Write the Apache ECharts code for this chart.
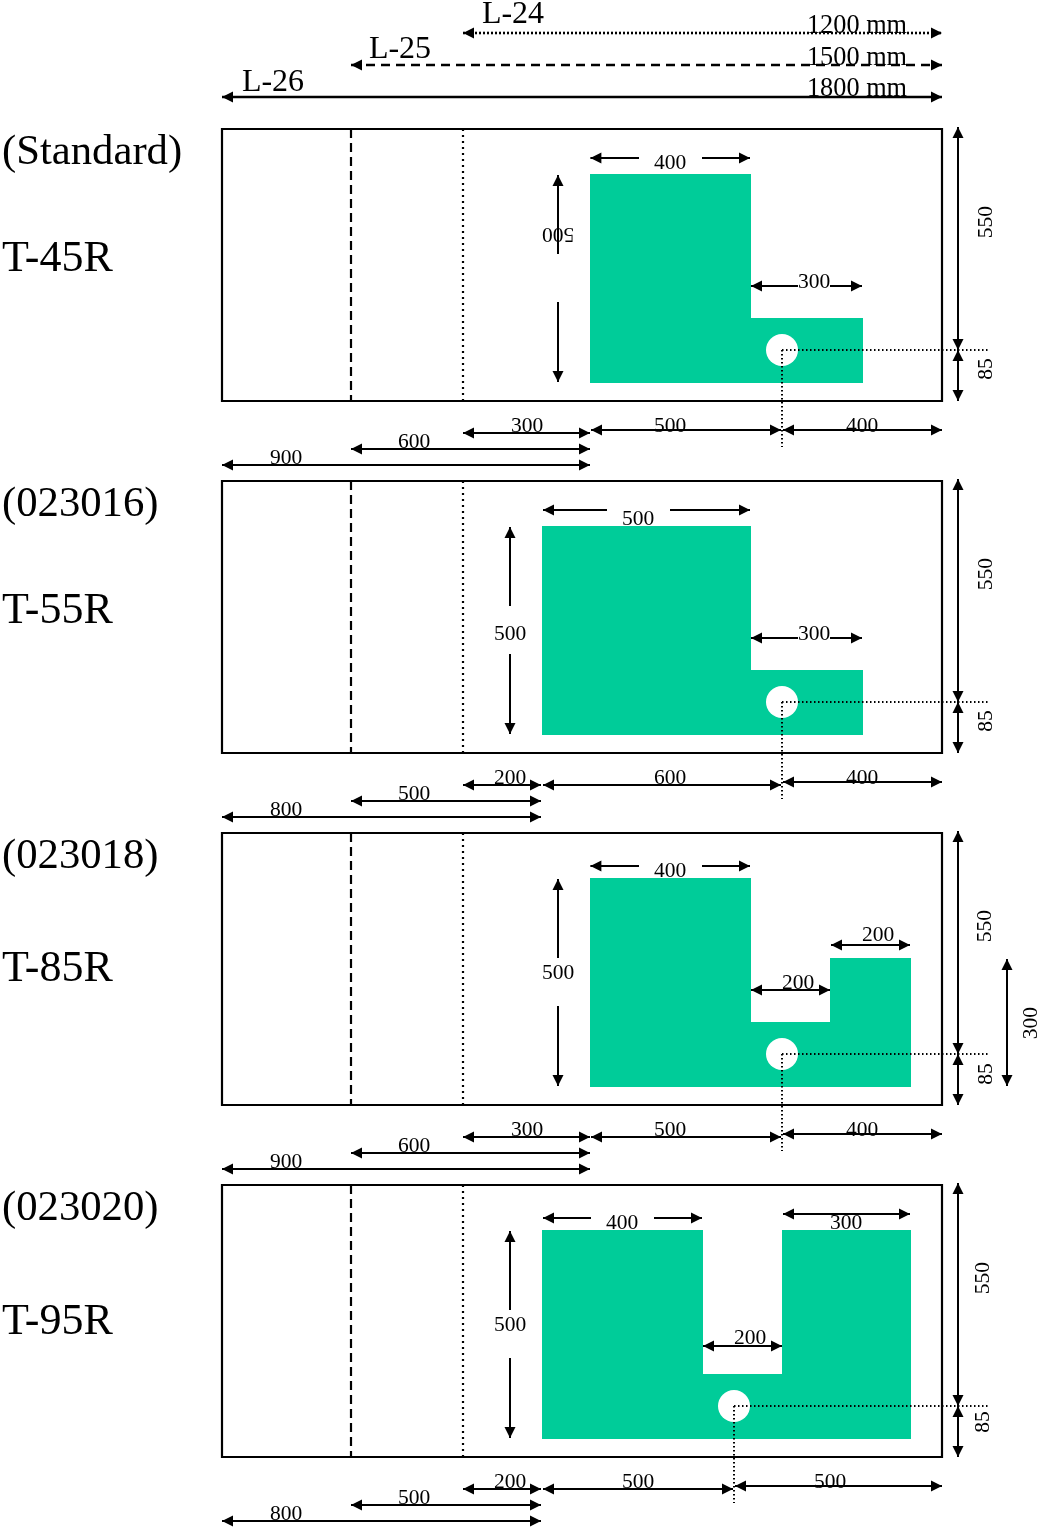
<!DOCTYPE html>
<html><head><meta charset="utf-8">
<style>html,body{margin:0;padding:0;background:#fff}#c{width:1037px;height:1530px}</style>
<script src="https://cdn.jsdelivr.net/npm/echarts@6/dist/echarts.min.js"></script>
</head><body><div id="c"></div>
<script>
// units: nominal drawing units; x from plate left edge, y from each plate's top edge
const plateWidth = 1800, plateHeight = 680;
const panelOffsets = [0, 880, 1760, 2640];
const lengthLimits = [322.5, 602.5];

const panelTitles = [
  ['(Standard)', 'T-45R', 60, 325],
  ['(023016)', 'T-55R', 60, 325],
  ['(023018)', 'T-85R', 60, 340],
  ['(023020)', 'T-95R', 60, 342.5]
];
const topLengths = [
  ['L-24', '1200 mm', 602.5, -240, 'dotted', 727.5, -285, -257.5],
  ['L-25', '1500 mm', 322.5, -160, 'dashed', 445, -199.5, -177.5],
  ['L-26', '1800 mm', 0, -80, 'solid', 127.5, -117, -100]
];
const shapes = [
  [[920,112.5],[1322.5,112.5],[1322.5,472.5],[1602.5,472.5],[1602.5,635],[920,635]],
  [[800,112.5],[1322.5,112.5],[1322.5,472.5],[1602.5,472.5],[1602.5,635],[800,635]],
  [[920,112.5],[1322.5,112.5],[1322.5,472.5],[1520,472.5],[1520,312.5],[1722.5,312.5],[1722.5,635],[920,635]],
  [[800,112.5],[1202.5,112.5],[1202.5,472.5],[1400,472.5],[1400,112.5],[1722.5,112.5],[1722.5,635],[800,635]]
];
const holes = [[1400,552.5],[1400,552.5],[1400,552.5],[1280,552.5]];
// [x1,y1,x2,y2,heads] heads: s=start, e=end, b=both
const arrows1 = [
  [921,72.5,1042.5,72.5,'s'],[1200,72.5,1320,72.5,'e'],
  [840,115,840,312.5,'s'],[840,432.5,840,632.5,'e'],
  [1322.5,392.5,1440,392.5,'s'],[1520,392.5,1600,392.5,'e'],
  [1840,-5,1840,552.5,'b'],[1840,552.5,1840,680,'b'],
  [602.5,760,920,760,'b'],[922.5,752.5,1397.5,752.5,'b'],[1402.5,752.5,1800,752.5,'b'],
  [322.5,800,920,800,'b'],[0,840,920,840,'b']
];
const arrows2 = [
  [802.5,72.5,962.5,72.5,'s'],[1120,72.5,1320,72.5,'e'],
  [720,115,720,312.5,'s'],[720,432.5,720,632.5,'e'],
  [1322.5,392.5,1440,392.5,'s'],[1520,392.5,1600,392.5,'e'],
  [1840,-5,1840,552.5,'b'],[1840,552.5,1840,680,'b'],
  [602.5,760,797.5,760,'b'],[802.5,760,1397.5,760,'b'],[1402.5,752.5,1800,752.5,'b'],
  [322.5,800,797.5,800,'b'],[0,840,797.5,840,'b']
];
const arrows3 = [
  [921,82.5,1042.5,82.5,'s'],[1200,82.5,1320,82.5,'e'],
  [840,115,840,312.5,'s'],[840,432.5,840,632.5,'e'],
  [1522.5,280,1720,280,'b'],[1322.5,392.5,1520,392.5,'b'],
  [1840,-5,1840,552.5,'b'],[1840,552.5,1840,680,'b'],[1962.5,315,1962.5,632.5,'b'],
  [602.5,760,920,760,'b'],[922.5,760,1397.5,760,'b'],[1402.5,752.5,1800,752.5,'b'],
  [322.5,800,920,800,'b'],[0,840,920,840,'b']
];
const arrows4 = [
  [802.5,82.5,922.5,82.5,'s'],[1080,82.5,1200,82.5,'e'],[1402.5,72.5,1720,72.5,'b'],
  [720,115,720,312.5,'s'],[720,432.5,720,632.5,'e'],
  [1202.5,402.5,1400,402.5,'b'],
  [1840,-5,1840,552.5,'b'],[1840,552.5,1840,680,'b'],
  [602.5,760,797.5,760,'b'],[802.5,760,1277.5,760,'b'],[1282.5,752.5,1800,752.5,'b'],
  [322.5,800,797.5,800,'b'],[0,840,797.5,840,'b']
];
const panelArrows = [arrows1, arrows2, arrows3, arrows4];
// [text,x,y,rotationDegrees]
const labels1 = [
  ['400',1120,85,0],['500',840,262.5,180],['300',1480,382.5,0],['550',1910,232.5,90],['85',1910,600,90],
  ['300',762.5,742.5,0],['500',1120,742.5,0],['400',1600,742.5,0],['600',480,782.5,0],['900',160,822.5,0]
];
const labels2 = [
  ['500',1040,95,0],['500',720,382.5,0],['300',1480,382.5,0],['550',1910,232.5,90],['85',1910,600,90],
  ['200',720,742.5,0],['600',1120,742.5,0],['400',1600,742.5,0],['500',480,782.5,0],['800',160,822.5,0]
];
const labels3 = [
  ['400',1120,95,0],['500',840,350,0],['200',1640,255,0],['200',1440,375,0],
  ['550',1907.5,232.5,90],['85',1910,602.5,90],['300',2022.5,475,90],
  ['300',762.5,742.5,0],['500',1120,742.5,0],['400',1600,742.5,0],['600',480,782.5,0],['900',160,822.5,0]
];
const labels4 = [
  ['400',1000,95,0],['300',1560,95,0],['500',720,350,0],['200',1320,382.5,0],
  ['550',1902.5,232.5,90],['85',1902.5,592.5,90],
  ['200',720,742.5,0],['500',1040,742.5,0],['500',1520,742.5,0],['500',480,782.5,0],['800',160,822.5,0]
];
const panelLabels = [labels1, labels2, labels3, labels4];
const guideRightEnd = 1915, guideBottomEnd = 795;

const DARK = '#000', GREEN = '#00cc99', SERIF = '"Liberation Serif","Times New Roman",serif';
const dashes = {solid: null, dashed: [9, 6], dotted: [2, 2]};

const segs = [], arrowsAll = [], textsAll = [];
panelOffsets.forEach((off, i) => {
  panelArrows[i].forEach(a => arrowsAll.push([a[0], a[1] + off, a[2], a[3] + off, a[4], 'solid', 2]));
  panelLabels[i].forEach(t => textsAll.push([t[0], t[1], t[2] + off, t[3], 21.5, 'center']));
  textsAll.push([panelTitles[i][0], -550, panelTitles[i][2] + off, 0, 42.7, 'left']);
  textsAll.push([panelTitles[i][1], -550, panelTitles[i][3] + off, 0, 44, 'left']);
  segs.push([lengthLimits[0], off, lengthLimits[0], off + plateHeight, 2.2, '9,5']);
  segs.push([lengthLimits[1], off, lengthLimits[1], off + plateHeight, 2.2, '2,4']);
  const h = holes[i];
  segs.push([h[0], h[1] + off, guideRightEnd, h[1] + off, 2, '1.5,2.5']);
  segs.push([h[0], h[1] + off, h[0], guideBottomEnd + off, 2, '1.5,2.5']);
});
topLengths.forEach(t => {
  arrowsAll.push([t[2], t[3], plateWidth, t[3], 'b', t[4], 2.6]);
  textsAll.push([t[0], t[5], t[6], 0, 32, 'center']);
  textsAll.push([t[1], 1587.5, t[7], 0, 26.3, 'center']);
});

const arrowItem = r => api => null;

const option = {
  animation: false, backgroundColor: '#fff',
  grid: {left: 0, right: 0, top: 0, bottom: 0},
  xAxis: {type: 'value', min: -555, max: 2037.5, show: false},
  yAxis: {type: 'value', min: -322.5, max: 3502.5, inverse: true, show: false},
  series: [
    {type: 'custom', coordinateSystem: 'cartesian2d', silent: true, z: 1, clip: false,
     data: shapes.map((s, i) => [s[0][0], panelOffsets[i], i]),
     encode: {x: 0, y: 1},
     renderItem: (p, api) => {
       const i = api.value(2);
       return {type: 'polygon', shape: {points: shapes[i].map(q => api.coord([q[0], q[1] + panelOffsets[i]]))}, style: {fill: GREEN}};
     }},
    {type: 'scatter', silent: true, z: 2, symbol: 'circle', symbolSize: 32, itemStyle: {color: '#fff', opacity: 1},
     data: holes.map((h, i) => [h[0], h[1] + panelOffsets[i]])},
    {type: 'custom', silent: true, z: 3, clip: false,
     data: panelOffsets.map(o => [0, o, plateWidth, o + plateHeight]),
     encode: {x: [0, 2], y: [1, 3]},
     renderItem: (p, api) => {
       const a = api.coord([api.value(0), api.value(1)]), b = api.coord([api.value(2), api.value(3)]);
       return {type: 'rect', shape: {x: a[0], y: a[1], width: b[0] - a[0], height: b[1] - a[1]},
         style: {fill: 'transparent', stroke: DARK, lineWidth: 2.2}};
     }},
    {type: 'custom', silent: true, z: 4, clip: false,
     data: segs.map(s => s.slice(0, 5)), encode: {x: [0, 2], y: [1, 3]},
     renderItem: (p, api) => {
       const a = api.coord([api.value(0), api.value(1)]), b = api.coord([api.value(2), api.value(3)]);
       const d = segs[p.dataIndex][5].split(',').map(Number);
       return {type: 'line', shape: {x1: a[0], y1: a[1], x2: b[0], y2: b[1]},
         style: {stroke: DARK, lineWidth: api.value(4), lineDash: d, fill: null}};
     }},
    {type: 'custom', silent: true, z: 5, clip: false,
     data: arrowsAll.map(r => r.slice(0, 4)),
     encode: {x: [0, 2], y: [1, 3]},
     renderItem: (p, api) => {
       const r = arrowsAll[p.dataIndex];
       const a = api.coord([r[0], r[1]]), b = api.coord([r[2], r[3]]);
       const len = Math.hypot(b[0] - a[0], b[1] - a[1]), ux = (b[0] - a[0]) / len, uy = (b[1] - a[1]) / len;
       const HL = 11, HW = 5.5;
       const head = (tip, dx, dy) => ({type: 'polygon', shape: {points: [
         tip, [tip[0] + dx * HL - dy * HW, tip[1] + dy * HL + dx * HW], [tip[0] + dx * HL + dy * HW, tip[1] + dy * HL - dx * HW]
       ]}, style: {fill: DARK}});
       const children = [{type: 'line', shape: {x1: a[0], y1: a[1], x2: b[0], y2: b[1]},
         style: {stroke: DARK, lineWidth: r[6], lineDash: dashes[r[5]] || null, fill: null}}];
       if (r[4] === 's' || r[4] === 'b') children.push(head(a, ux, uy));
       if (r[4] === 'e' || r[4] === 'b') children.push(head(b, -ux, -uy));
       return {type: 'group', children};
     }},
    {type: 'custom', silent: true, z: 6, clip: false,
     data: textsAll.map(t => [t[1], t[2]]), encode: {x: 0, y: 1},
     renderItem: (p, api) => {
       const t = textsAll[p.dataIndex], c = api.coord([t[1], t[2]]);
       return {type: 'text', x: c[0], y: c[1], rotation: t[3] * Math.PI / 180,
         style: {text: t[0], fill: '#000', font: t[4] + 'px ' + SERIF, align: t[5], verticalAlign: 'middle'}};
     }}
  ]
};
const chart = echarts.init(document.getElementById('c'), null, {renderer: 'canvas', width: 1037, height: 1530});
chart.setOption(option);
</script></body></html>
